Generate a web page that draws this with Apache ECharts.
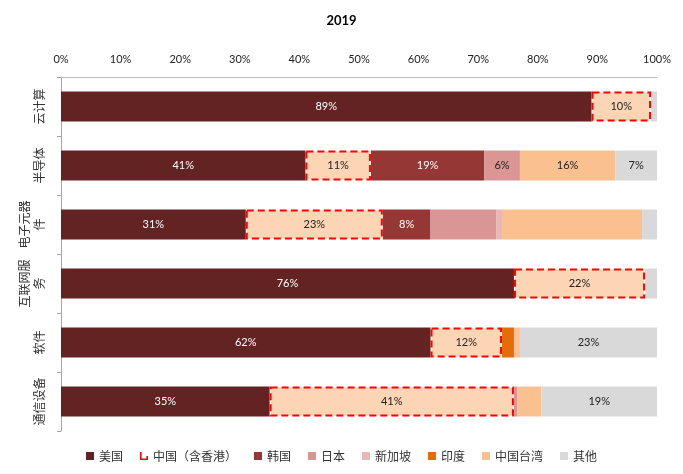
<!DOCTYPE html>
<html><head><meta charset="utf-8">
<script src="https://cdn.jsdelivr.net/npm/echarts@6/dist/echarts.min.js"></script>
<style>html,body{margin:0;padding:0;background:#fff}#c{width:683px;height:474px}</style>
</head><body><div id="c"></div>
<script>
const categories = ['云计算','半导体','电子元器件','互联网服务','软件','通信设备'];
const xTicks = ['0%','10%','20%','30%','40%','50%','60%','70%','80%','90%','100%'];
const seriesNames = ['美国','中国（含香港）','韩国','日本','新加坡','印度','中国台湾','其他'];
const us        = [89, 41, 31, 76, 62, 35];
const china     = [10, 11, 23, 22, 12, 41];
const korea     = [0, 19, 8, 0, 0, 0];
const japan     = [0, 6, 11, 0, 0, 0.6];
const singapore = [0, 0, 1, 0, 0, 0];
const india     = [0, 0, 0, 0, 2, 0];
const taiwan    = [0, 16, 23.5, 0, 1, 4];
const other     = [1, 7, 2.5, 2, 23, 19.4];
// labels hidden on these (series index -> category indices)
const hiddenLabels = {3: [2], 6: [2]};

const values = [us, china, korea, japan, singapore, india, taiwan, other];
const colors = ['#622322','#FCD5B5','#953735','#D99694','#E6B9B8','#E46C0A','#FAC090','#D9D9D9'];
const labelColors = ['#fff','#222','#fff','#222','#222','#222','#222','#222'];
const FONT = 'Lato, "Noto Sans", sans-serif';

const series = values.map((arr, si) => ({
  name: seriesNames[si],
  type: 'bar',
  stack: 'all',
  barWidth: 30,
  itemStyle: si === 1
    ? {color: colors[si], borderColor: '#FF0000', borderWidth: 2, borderType: [7, 4]}
    : {color: colors[si]},
  label: {
    show: true, position: 'inside', color: labelColors[si], fontSize: 11, fontFamily: FONT,
    formatter: p => Math.round(p.value) + '%'
  },
  data: arr.map((v, ci) => {
    const hide = v < 5 || (hiddenLabels[si] && hiddenLabels[si].includes(ci));
    return hide ? {value: v, label: {show: false}} : v;
  })
}));

const chart = echarts.init(document.getElementById('c'));
chart.setOption({
  animation: false,
  title: {text: '2019', left: 'center', top: 9, textStyle: {fontSize: 13, fontWeight: 'bold', color: '#000', fontFamily: FONT}},
  grid: {left: 61, right: 26, top: 77, bottom: 43},
  legend: {
    bottom: 7, left: 'center', itemWidth: 8, itemHeight: 8, itemGap: 17,
    textStyle: {fontSize: 12, color: '#333', fontFamily: '"Noto Sans CJK SC", sans-serif'},
    data: seriesNames.map((n, i) => i === 1
      ? {name: n, icon: 'path://M0,0 L2,0 L2,8 L8,8 L8,5 L10,5 L10,10 L0,10 Z', itemStyle: {color: '#FF0000', borderWidth: 0}}
      : {name: n, icon: 'rect', itemStyle: {color: colors[i], borderWidth: 0}})
  },
  xAxis: {
    type: 'value', position: 'top', min: 0, max: 100, interval: 10,
    axisLine: {show: true, lineStyle: {color: '#BFBFBF'}},
    axisTick: {show: false},
    splitLine: {show: false},
    axisLabel: {fontSize: 11, color: '#222', fontFamily: FONT, margin: 12,
      formatter: v => xTicks[Math.round(v / 10)]}
  },
  yAxis: {
    type: 'category', inverse: true, data: categories,
    axisLine: {show: true, lineStyle: {color: '#A6A6A6'}},
    axisTick: {show: true, length: 4, lineStyle: {color: '#A6A6A6'}},
    axisLabel: {interval: 0, rotate: 90, fontSize: 12, color: '#333', margin: 14, lineHeight: 15,
      fontFamily: '"Noto Sans CJK SC", sans-serif',
      formatter: s => s.length > 4 ? s.slice(0, 4) + '\n' + s.slice(4) : s}
  },
  series: series
});
</script></body></html>
